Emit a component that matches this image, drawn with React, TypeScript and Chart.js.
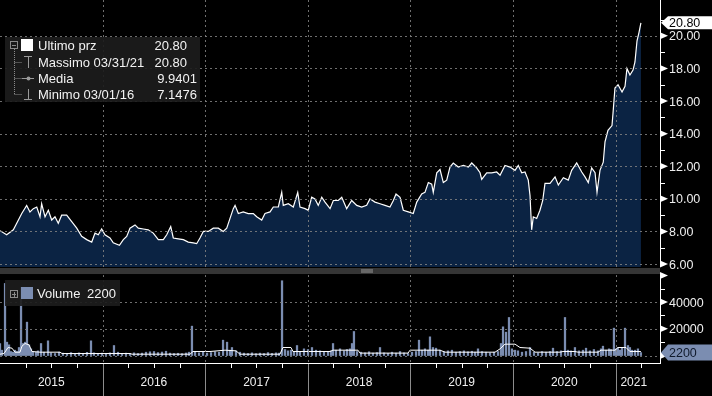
import React, { useEffect, useRef } from 'react';
import { Chart, registerables } from 'chart.js';

Chart.register(...registerables);

// ---- Data (time = years since 1 Jan 2015) ----
const START_YEAR = 2015;
const yearLabels = ['2015', '2016', '2017', '2018', '2019', '2020', '2021'];

const priceTimes = [
  0.000, 0.065, 0.130, 0.163, 0.212, 0.260, 0.292, 0.325, 0.358, 0.390, 0.406, 0.439, 0.471, 0.504, 0.536, 0.568,
  0.601, 0.650, 0.699, 0.748, 0.796, 0.845, 0.894, 0.926, 0.958, 0.991, 1.023, 1.072, 1.104, 1.164, 1.202, 1.235,
  1.267, 1.316, 1.348, 1.397, 1.445, 1.494, 1.543, 1.592, 1.625, 1.664, 1.689, 1.738, 1.787, 1.835, 1.884, 1.917,
  1.949, 1.982, 2.030, 2.079, 2.128, 2.176, 2.210, 2.242, 2.274, 2.291, 2.323, 2.371, 2.420, 2.469, 2.502, 2.551,
  2.583, 2.632, 2.664, 2.713, 2.746, 2.761, 2.810, 2.859, 2.902, 2.924, 2.973, 3.005, 3.038, 3.070, 3.102, 3.136,
  3.168, 3.217, 3.249, 3.297, 3.331, 3.379, 3.428, 3.477, 3.525, 3.574, 3.606, 3.655, 3.704, 3.753, 3.801, 3.834,
  3.860, 3.899, 3.931, 3.980, 4.028, 4.062, 4.110, 4.142, 4.175, 4.208, 4.223, 4.257, 4.289, 4.321, 4.354, 4.386,
  4.418, 4.467, 4.516, 4.565, 4.598, 4.646, 4.679, 4.695, 4.744, 4.793, 4.841, 4.874, 4.922, 4.971, 5.020, 5.052,
  5.085, 5.117, 5.149, 5.166, 5.182, 5.198, 5.231, 5.263, 5.290, 5.312, 5.361, 5.410, 5.442, 5.491, 5.539, 5.572,
  5.621, 5.670, 5.702, 5.734, 5.767, 5.800, 5.819, 5.848, 5.880, 5.897, 5.926, 5.965, 5.975, 5.994, 6.024, 6.063,
  6.092, 6.111, 6.140, 6.170, 6.189, 6.209, 6.228, 6.247,
];
const priceValues = [
  8.05, 7.8, 8.1, 8.5, 9.1, 9.6, 9.2, 9.4, 9.5, 8.9, 9.7, 8.9, 9.3, 8.7, 8.9, 8.5,
  9.0, 9.0, 8.6, 8.2, 7.7, 7.5, 7.35, 7.9, 7.8, 8.15, 7.8, 7.6, 7.3, 7.15, 7.5, 7.7,
  8.2, 8.4, 8.2, 8.15, 8.1, 7.9, 7.5, 7.5, 7.8, 8.3, 7.6, 7.55, 7.5, 7.35, 7.3, 7.25,
  7.6, 8.0, 8.0, 8.2, 8.2, 8.0, 8.2, 8.8, 9.4, 9.6, 9.1, 9.2, 9.1, 9.1, 8.9, 8.7,
  9.1, 9.2, 9.5, 9.5, 10.4, 9.6, 9.7, 9.5, 10.4, 9.5, 9.4, 9.3, 10.1, 10.0, 9.6, 10.1,
  9.8, 9.4, 9.9, 9.9, 10.1, 9.4, 9.9, 9.6, 9.5, 9.6, 10.0, 9.8, 9.7, 9.6, 9.5, 9.9,
  10.3, 10.1, 9.3, 9.2, 9.1, 9.8, 10.3, 10.4, 11.0, 10.9, 10.4, 11.6, 11.8, 11.0, 11.15, 11.95,
  12.2, 11.95, 12.05, 11.95, 12.2, 11.9, 11.6, 11.2, 11.6, 11.6, 11.65, 11.45, 12.05, 11.95, 11.75, 12.05,
  11.6, 11.65, 11.15, 10.2, 8.1, 8.9, 8.8, 9.3, 9.9, 10.95, 10.95, 11.35, 10.85, 11.3, 11.15, 11.75,
  12.2, 11.65, 11.35, 11.0, 11.9, 11.6, 10.4, 11.75, 12.25, 13.5, 14.2, 14.5, 15.25, 16.8, 17.0, 16.55,
  16.9, 18.0, 17.6, 17.9, 18.4, 19.7, 20.2, 20.8,
];

const volumeTimes = [
  0.000, 0.019, 0.049, 0.068, 0.088, 0.107, 0.127, 0.146, 0.166, 0.185, 0.205, 0.224, 0.244, 0.263, 0.283, 0.302,
  0.322, 0.351, 0.370, 0.400, 0.429, 0.468, 0.497, 0.536, 0.575, 0.614, 0.653, 0.692, 0.731, 0.770, 0.809, 0.848,
  0.887, 0.916, 0.955, 0.994, 1.033, 1.072, 1.111, 1.150, 1.189, 1.228, 1.267, 1.306, 1.345, 1.384, 1.423, 1.462,
  1.501, 1.540, 1.579, 1.618, 1.657, 1.696, 1.735, 1.774, 1.813, 1.842, 1.871, 1.901, 1.940, 1.979, 2.018, 2.057,
  2.096, 2.135, 2.174, 2.213, 2.242, 2.261, 2.300, 2.339, 2.378, 2.417, 2.456, 2.495, 2.534, 2.573, 2.612, 2.651,
  2.690, 2.719, 2.749, 2.778, 2.807, 2.836, 2.865, 2.895, 2.924, 2.963, 3.002, 3.041, 3.080, 3.119, 3.158, 3.197,
  3.226, 3.246, 3.275, 3.314, 3.353, 3.382, 3.411, 3.431, 3.450, 3.480, 3.519, 3.558, 3.597, 3.635, 3.674, 3.704,
  3.743, 3.782, 3.821, 3.860, 3.899, 3.938, 3.977, 4.016, 4.055, 4.084, 4.113, 4.142, 4.172, 4.191, 4.220, 4.250,
  4.289, 4.327, 4.366, 4.405, 4.444, 4.483, 4.522, 4.561, 4.600, 4.630, 4.659, 4.698, 4.737, 4.776, 4.815, 4.854,
  4.883, 4.903, 4.932, 4.961, 4.990, 5.020, 5.049, 5.088, 5.127, 5.166, 5.205, 5.244, 5.283, 5.322, 5.361, 5.390,
  5.429, 5.468, 5.507, 5.536, 5.565, 5.604, 5.643, 5.682, 5.712, 5.750, 5.789, 5.828, 5.858, 5.877, 5.906, 5.936,
  5.955, 5.984, 6.004, 6.023, 6.043, 6.062, 6.092, 6.121, 6.140, 6.160, 6.189, 6.218, 6.247,
];
const volumeValues = [
  9000, 4000, 54000, 10000, 8000, 3000, 2500, 4000, 3000, 6000, 51000, 9000, 10000, 25000, 8000, 5000,
  3000, 2500, 3500, 9000, 2500, 11000, 2000, 1500, 2500, 1800, 1500, 2200, 1500, 2000, 1600, 2400,
  11000, 2000, 1500, 1800, 1500, 2000, 7500, 2500, 1500, 1800, 1400, 2000, 1500, 1800, 2500, 2800,
  3000, 2200, 2600, 3200, 1800, 1500, 1700, 1400, 1900, 2500, 22000, 3000, 2000, 2400, 1800, 2200,
  2800, 2500, 11500, 10000, 4000, 6000, 3500, 2500, 1800, 1500, 2000, 1400, 1800, 1500, 2200, 1600,
  2000, 1800, 56000, 4500, 3500, 4000, 3000, 7500, 3000, 5000, 4500, 6000, 4000, 3500, 2500, 3000,
  3500, 9000, 4000, 5000, 3500, 4500, 5000, 9000, 18000, 3000, 2500, 2000, 2800, 1800, 2200, 6000,
  2000, 1600, 2500, 1800, 3000, 2000, 1500, 2500, 3000, 11500, 4000, 5000, 4000, 14000, 6000, 5500,
  4000, 3000, 3500, 4000, 2500, 3000, 3500, 2800, 3200, 2500, 5000, 3000, 2500, 2000, 2500, 3000,
  9000, 21500, 17500, 28500, 5000, 4000, 3500, 2500, 3000, 6000, 2500, 2000, 3000, 2500, 3000, 5500,
  3000, 3500, 28500, 4000, 3500, 6000, 3500, 4000, 5500, 3500, 4500, 3500, 5000, 7000, 4000, 5000,
  4500, 20500, 5000, 6000, 4000, 6000, 20500, 7500, 6000, 4000, 4000, 5000, 2200,
];

const volumeAvgTimes = [
  0.000, 0.039, 0.078, 0.117, 0.146, 0.195, 0.214, 0.244, 0.283, 0.312, 0.390, 0.585, 0.604, 1.267, 1.287, 1.852,
  1.881, 1.998, 2.047, 2.193, 2.300, 2.339, 2.729, 2.758, 2.836, 2.856, 3.217, 3.246, 3.489, 3.509, 3.977, 3.996,
  4.289, 4.337, 4.825, 4.874, 4.922, 5.020, 5.068, 5.166, 5.215, 5.458, 5.488, 5.604, 5.634, 5.829, 5.858, 5.994,
  6.024, 6.102, 6.140, 6.247,
];
const volumeAvgValues = [
  1000, 1500, 6000, 5500, 2500, 2500, 7000, 9000, 8000, 3000, 2500, 2500, 1500, 1500, 1000, 1000,
  3000, 3000, 3000, 4000, 3500, 1000, 1000, 6000, 6000, 3000, 3000, 4000, 4000, 1800, 1800, 4000,
  4000, 2500, 2500, 5000, 8500, 8500, 6000, 5500, 2500, 2500, 3000, 3000, 2500, 2500, 4000, 4000,
  6000, 6000, 3000, 3000,
];

const priceTicks = [6, 8, 10, 12, 14, 16, 18, 20];
const priceMinorTicks = [7, 9, 11, 13, 15, 17, 19, 21];
const volumeTicks = [20000, 40000];
const volumeArrowTicks = [0, 20000, 40000, 60000];
const volumeMinorTicks = [10000, 30000, 50000];

const lastPrice = '20.80';
const lastVolume = '2200';
const legendRows = [
  { label: 'Ultimo prz', value: '20.80' },
  { label: 'Massimo 03/31/21', value: '20.80' },
  { label: 'Media', value: '9.9401' },
  { label: 'Minimo 03/01/16', value: '7.1476' },
];

// ---- Scale settings ----
const X_MIN = 2015;
const X_MAX = 2021.433;
const PRICE_MIN = -0.07;
const PRICE_MAX = 22.2;
const PRICE_FLOOR = 5.82;
const VOL_MIN = -5600;
const VOL_MAX = 266300;
const VOL_TOP = 60300;

const FONT = '"Liberation Sans", Arial, sans-serif';
const DASH_COLOR = 'rgba(130,130,130,0.85)';
const VOL_COLOR = '#7b8db1';

const drawPlugin = {
  id: 'bbgDecor',
  beforeDraw(chart: any) {
    const ctx = chart.ctx;
    ctx.save();
    ctx.fillStyle = '#000';
    ctx.fillRect(0, 0, chart.width, chart.height);
    ctx.restore();
  },
  afterDatasetsDraw(chart: any) {
    const ctx: CanvasRenderingContext2D = chart.ctx;
    const xs = chart.scales.x;
    const ys = chart.scales.y;
    const yv = chart.scales.yv;
    const area = chart.chartArea;
    const L = area.left;
    const R = area.right;
    const priceBottom = ys.getPixelForValue(PRICE_FLOOR);
    const volTop = yv.getPixelForValue(VOL_TOP);
    const volBottom = area.bottom;
    const years = yearLabels.map((y) => Number(y));

    ctx.save();
    // dashed grid
    ctx.strokeStyle = DASH_COLOR;
    ctx.lineWidth = 1;
    ctx.setLineDash([2, 3]);
    ctx.beginPath();
    priceTicks.forEach((v) => {
      const y = Math.round(ys.getPixelForValue(v)) + 0.5;
      ctx.moveTo(L, y);
      ctx.lineTo(R, y);
    });
    [0, ...volumeTicks].forEach((v) => {
      const y = Math.round(yv.getPixelForValue(v)) + 0.5;
      ctx.moveTo(L, y);
      ctx.lineTo(R, y);
    });
    years.slice(1).forEach((yr) => {
      const x = Math.round(xs.getPixelForValue(yr)) + 0.5;
      ctx.moveTo(x, 0);
      ctx.lineTo(x, priceBottom);
      ctx.moveTo(x, volTop);
      ctx.lineTo(x, volBottom);
    });
    ctx.stroke();
    ctx.setLineDash([]);

    // clear area right of price panel below data area not needed; separator band
    ctx.fillStyle = '#000';
    ctx.fillRect(L, priceBottom, R - L, volTop - priceBottom);
    ctx.fillStyle = '#353535';
    ctx.fillRect(L, priceBottom + 1, R - L, volTop - priceBottom - 2);
    ctx.fillStyle = '#9a9a9a';
    const hx = (L + R) / 2 + 37;
    ctx.fillRect(hx - 6, priceBottom + 2.5, 12, 1);
    ctx.fillRect(hx - 6, priceBottom + 4.5, 12, 1);

    // axis lines
    ctx.strokeStyle = '#ffffff';
    ctx.lineWidth = 1;
    ctx.beginPath();
    ctx.moveTo(R + 0.5, 0);
    ctx.lineTo(R + 0.5, priceBottom);
    ctx.moveTo(R + 0.5, volTop);
    ctx.lineTo(R + 0.5, volBottom);
    ctx.moveTo(L, volBottom + 0.5);
    ctx.lineTo(R + 1, volBottom + 0.5);
    ctx.stroke();

    const arrow = (y: number) => {
      ctx.beginPath();
      ctx.moveTo(R, y - 3.5);
      ctx.lineTo(R + 8, y);
      ctx.lineTo(R, y + 3.5);
      ctx.closePath();
      ctx.fill();
    };
    const minor = (y: number) => {
      ctx.beginPath();
      ctx.moveTo(R, Math.round(y) + 0.5);
      ctx.lineTo(R + 5, Math.round(y) + 0.5);
      ctx.stroke();
    };

    ctx.fillStyle = '#ffffff';
    priceTicks.forEach((v) => arrow(ys.getPixelForValue(v)));
    priceMinorTicks.forEach((v) => minor(ys.getPixelForValue(v)));
    volumeArrowTicks.forEach((v) => arrow(yv.getPixelForValue(v)));
    volumeMinorTicks.forEach((v) => minor(yv.getPixelForValue(v)));

    ctx.font = `12.5px ${FONT}`;
    ctx.fillStyle = '#eeeeee';
    ctx.textAlign = 'left';
    ctx.textBaseline = 'middle';
    priceTicks.forEach((v) => ctx.fillText(v.toFixed(2), R + 9, ys.getPixelForValue(v) + 1));
    volumeTicks.forEach((v) => ctx.fillText(String(v), R + 9, yv.getPixelForValue(v) + 1));

    // x axis: quarter ticks, year separators, labels
    ctx.strokeStyle = '#ffffff';
    ctx.beginPath();
    for (let q = X_MIN + 0.25; q < X_MAX; q += 0.25) {
      if (Math.abs(q - Math.round(q)) < 1e-6) continue;
      const x = Math.round(xs.getPixelForValue(q)) + 0.5;
      ctx.moveTo(x, volBottom + 1);
      ctx.lineTo(x, volBottom + 5);
    }
    ctx.stroke();
    ctx.strokeStyle = '#8c8c8c';
    ctx.beginPath();
    years.slice(1).forEach((yr) => {
      const x = Math.round(xs.getPixelForValue(yr)) + 0.5;
      ctx.moveTo(x, volBottom + 1);
      ctx.lineTo(x, chart.height);
    });
    ctx.stroke();

    ctx.font = `12px ${FONT}`;
    ctx.fillStyle = '#f0f0f0';
    ctx.textAlign = 'center';
    years.forEach((yr, i) => {
      const x0 = xs.getPixelForValue(Math.max(yr, X_MIN));
      const x1 = Math.min(xs.getPixelForValue(yr + 1), R - 8);
      ctx.fillText(yearLabels[i], (x0 + x1) / 2, volBottom + 20);
    });

    // price legend
    ctx.fillStyle = 'rgba(28,28,28,0.92)';
    ctx.fillRect(5, 37, 195, 65);
    const rowY = [45, 62, 78, 94];
    ctx.strokeStyle = '#8a8a8a';
    ctx.lineWidth = 1;
    ctx.strokeRect(10.5, 41.5, 7, 7);
    ctx.beginPath();
    ctx.moveTo(12, 45.5);
    ctx.lineTo(16, 45.5);
    ctx.stroke();
    ctx.setLineDash([1, 1]);
    ctx.beginPath();
    ctx.moveTo(14.5, 49);
    ctx.lineTo(14.5, rowY[3]);
    [1, 2, 3].forEach((r) => {
      ctx.moveTo(14.5, rowY[r] + 0.5);
      ctx.lineTo(22, rowY[r] + 0.5);
    });
    ctx.stroke();
    ctx.setLineDash([]);
    ctx.fillStyle = '#ffffff';
    ctx.fillRect(21, 39, 12, 12);
    ctx.strokeStyle = '#9a9a9a';
    ctx.beginPath();
    ctx.moveTo(24, 56.5);
    ctx.lineTo(32, 56.5);
    ctx.moveTo(28.5, 56.5);
    ctx.lineTo(28.5, 68);
    ctx.moveTo(22, 78.5);
    ctx.lineTo(34, 78.5);
    ctx.moveTo(28.5, 89);
    ctx.lineTo(28.5, 99.5);
    ctx.moveTo(24, 99.5);
    ctx.lineTo(32, 99.5);
    ctx.stroke();
    ctx.fillStyle = '#9a9a9a';
    ctx.beginPath();
    ctx.arc(28.5, 78.5, 2, 0, Math.PI * 2);
    ctx.fill();

    ctx.font = `13px ${FONT}`;
    ctx.textBaseline = 'middle';
    const valueRight = [187, 187, 197, 197];
    legendRows.forEach((row, i) => {
      ctx.fillStyle = '#f2f2f2';
      ctx.textAlign = 'left';
      ctx.fillText(row.label, 38, rowY[i] + 1);
      ctx.textAlign = 'right';
      ctx.fillText(row.value, valueRight[i], rowY[i] + 1);
    });

    // volume legend
    ctx.fillStyle = 'rgba(28,28,28,0.92)';
    ctx.fillRect(5, 280, 115, 26);
    ctx.strokeStyle = '#8a8a8a';
    ctx.strokeRect(10.5, 290.5, 7, 7);
    ctx.beginPath();
    ctx.moveTo(12, 294.5);
    ctx.lineTo(16, 294.5);
    ctx.moveTo(14.5, 292);
    ctx.lineTo(14.5, 297);
    ctx.stroke();
    ctx.fillStyle = VOL_COLOR;
    ctx.fillRect(21, 287, 12, 12);
    ctx.fillStyle = '#f2f2f2';
    ctx.textAlign = 'left';
    ctx.fillText('Volume', 37, 294);
    ctx.fillText(lastVolume, 87, 294);

    // last value tags
    const tag = (y: number, text: string, bg: string, fg: string, h: number) => {
      ctx.fillStyle = bg;
      ctx.beginPath();
      ctx.moveTo(R + 1, y);
      ctx.lineTo(R + 8, y - h / 2);
      ctx.lineTo(chart.width, y - h / 2);
      ctx.lineTo(chart.width, y + h / 2);
      ctx.lineTo(R + 8, y + h / 2);
      ctx.closePath();
      ctx.fill();
      ctx.fillStyle = fg;
      ctx.textAlign = 'left';
      ctx.font = `12.5px ${FONT}`;
      ctx.fillText(text, R + 9, y + 1);
    };
    tag(ys.getPixelForValue(Number(lastPrice)), lastPrice, '#ffffff', '#000000', 13);
    tag(yv.getPixelForValue(Number(lastVolume)), lastVolume, VOL_COLOR, '#101a2c', 16);

    ctx.restore();
  },
};

export default function App() {
  const ref = useRef<HTMLCanvasElement | null>(null);

  useEffect(() => {
    document.body.style.margin = '0';
    document.body.style.background = '#000';
    if (!ref.current) return;
    const pricePoints = priceTimes.map((t, i) => ({ x: START_YEAR + t, y: priceValues[i] }));
    const volumePoints = volumeTimes.map((t, i) => ({ x: START_YEAR + t, y: volumeValues[i] }));
    const avgPoints = volumeAvgTimes.map((t, i) => ({ x: START_YEAR + t, y: volumeAvgValues[i] }));

    const chart = new Chart(ref.current, {
      type: 'line',
      data: {
        datasets: [
          {
            type: 'line',
            data: pricePoints,
            yAxisID: 'y',
            borderColor: '#ffffff',
            borderWidth: 1.2,
            backgroundColor: '#0b2343',
            fill: { value: PRICE_FLOOR },
            pointRadius: 0,
            tension: 0,
            order: 2,
          } as any,
          {
            type: 'bar',
            data: volumePoints,
            yAxisID: 'yv',
            backgroundColor: VOL_COLOR,
            barThickness: 1.6,
            order: 3,
          } as any,
          {
            type: 'line',
            data: avgPoints,
            yAxisID: 'yv',
            borderColor: '#ffffff',
            borderWidth: 1,
            pointRadius: 0,
            fill: false,
            tension: 0,
            order: 1,
          } as any,
        ],
      },
      options: {
        animation: false,
        responsive: false,
        devicePixelRatio: 1,
        layout: { padding: { left: 0, top: 0, right: 52, bottom: 33 } },
        plugins: { legend: { display: false }, tooltip: { enabled: false } },
        scales: {
          x: { type: 'linear', display: false, min: X_MIN, max: X_MAX, offset: false },
          y: { type: 'linear', display: false, min: PRICE_MIN, max: PRICE_MAX, position: 'right' },
          yv: { type: 'linear', display: false, min: VOL_MIN, max: VOL_MAX, position: 'right' },
        },
      } as any,
      plugins: [drawPlugin],
    });
    return () => chart.destroy();
  }, []);

  return (
    <div style={{ position: 'fixed', left: 0, top: 0, width: 712, height: 396, background: '#000' }}>
      <canvas ref={ref} width={712} height={396} style={{ display: 'block' }} />
    </div>
  );
}
